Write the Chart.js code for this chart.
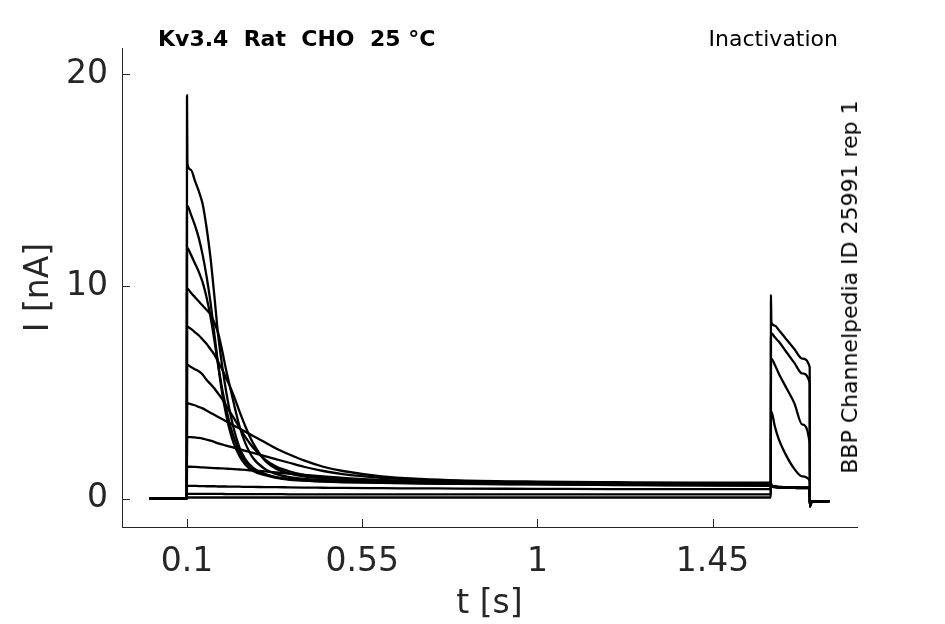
<!DOCTYPE html>
<html>
<head>
<meta charset="utf-8">
<script src="https://cdn.jsdelivr.net/npm/chart.js@4.4.1/dist/chart.umd.min.js"></script>
<style>
  html, body { margin: 0; padding: 0; background: #fff; }
  #wrap { position: relative; width: 945px; height: 624px; font-family: "DejaVu Sans", sans-serif; color: #000; }
  #c { position: absolute; left: 0; top: 0; }
  .note { position: absolute; white-space: pre; font-size: 22px; line-height: 1; }
  #title { left: 158px; top: 28px; font-weight: bold; }
  #protocol { right: 107px; top: 28px; }
  #source { left: 850px; top: 287px; transform: translate(-50%, -50%) rotate(-90deg); }
</style>
</head>
<body>
<div id="wrap">
  <canvas id="c" width="945" height="624"></canvas>
  <div class="note" id="title">Kv3.4  Rat  CHO  25 °C</div>
  <div class="note" id="protocol">Inactivation</div>
  <div class="note" id="source">BBP Channelpedia ID 25991 rep 1</div>
</div>
<script>
// sample times (s), shared by all sweeps
const timeS = [0.003, 0.0995, 0.1, 0.101, 0.11, 0.12, 0.13, 0.14, 0.15, 0.16, 0.17, 0.18, 0.19, 0.2, 0.21, 0.22,
  0.235, 0.25, 0.27, 0.3, 0.33, 0.36, 0.4, 0.45, 0.5, 0.6, 0.7, 0.8, 1.0, 1.2, 1.4, 1.5995,
  1.6, 1.601, 1.61, 1.62, 1.64, 1.66, 1.68, 1.6995, 1.7, 1.702, 1.705, 1.75];

// current (nA) for each sweep
const sweep01 = [0, 0, 19.0, 15.8, 15.5, 15.0, 14.5, 13.9, 12.8, 11.4, 9.6, 7.7, 6.3, 5.1, 4.1, 3.3,
  2.4, 1.85, 1.45, 1.15, 1.0, 0.92, 0.86, 0.82, 0.79, 0.76, 0.74, 0.72, 0.7, 0.68, 0.67, 0.67,
  0.75, 0.62, 0.57, 0.55, 0.54, 0.53, 0.52, 0.52, -0.35, -0.25, -0.15, -0.12];
const sweep02 = [0, 0, 13.8, 13.8, 13.4, 12.9, 12.3, 11.5, 10.5, 9.3, 7.8, 6.3, 5.0, 4.0, 3.2, 2.6,
  2.0, 1.6, 1.3, 1.1, 0.98, 0.9, 0.85, 0.8, 0.77, 0.74, 0.71, 0.69, 0.67, 0.65, 0.63, 0.63,
  0.72, 0.6, 0.55, 0.53, 0.52, 0.51, 0.5, 0.5, -0.35, -0.25, -0.15, -0.12];
const sweep03 = [0, 0, 11.8, 11.8, 11.5, 11.1, 10.7, 10.2, 9.5, 8.6, 7.5, 6.3, 5.2, 4.3, 3.5, 2.9,
  2.2, 1.75, 1.4, 1.15, 1.0, 0.93, 0.88, 0.83, 0.8, 0.76, 0.73, 0.7, 0.68, 0.66, 0.64, 0.64,
  0.7, 0.58, 0.54, 0.52, 0.51, 0.5, 0.49, 0.49, -0.35, -0.25, -0.15, -0.12];
const sweep04 = [0, 0, 9.9, 9.9, 9.7, 9.5, 9.3, 9.1, 8.9, 8.7, 8.3, 7.8, 7.0, 6.1, 5.3, 4.5,
  3.4, 2.6, 1.9, 1.4, 1.15, 1.02, 0.93, 0.87, 0.83, 0.78, 0.75, 0.72, 0.7, 0.68, 0.66, 0.66,
  0.7, 0.6, 0.56, 0.54, 0.53, 0.52, 0.51, 0.51, -0.35, -0.25, -0.15, -0.12];
const sweep05 = [0, 0, 8.1, 8.1, 8.0, 7.85, 7.7, 7.5, 7.3, 7.05, 6.8, 6.45, 6.1, 5.7, 5.3, 4.85,
  4.1, 3.4, 2.6, 1.8, 1.4, 1.2, 1.05, 0.95, 0.88, 0.8, 0.76, 0.73, 0.7, 0.68, 0.67, 0.67,
  0.68, 0.58, 0.54, 0.52, 0.51, 0.5, 0.49, 0.49, -0.35, -0.25, -0.15, -0.12];
const sweep06 = [0, 0, 6.3, 6.3, 6.2, 6.1, 6.0, 5.85, 5.6, 5.4, 5.2, 4.95, 4.7, 4.4, 4.1, 3.8,
  3.35, 2.9, 2.4, 1.85, 1.5, 1.3, 1.12, 1.0, 0.92, 0.83, 0.78, 0.75, 0.72, 0.7, 0.69, 0.69,
  0.7, 0.6, 0.56, 0.54, 0.52, 0.51, 0.5, 0.5, -0.35, -0.25, -0.15, -0.12];
const sweep07 = [0, 0, 4.5, 4.5, 4.45, 4.4, 4.32, 4.25, 4.15, 4.05, 3.95, 3.85, 3.75, 3.65, 3.55, 3.45,
  3.3, 3.15, 2.95, 2.65, 2.35, 2.1, 1.8, 1.5, 1.3, 1.05, 0.93, 0.86, 0.8, 0.77, 0.75, 0.75,
  0.72, 0.62, 0.57, 0.55, 0.54, 0.53, 0.52, 0.52, -0.35, -0.25, -0.15, -0.12];
const sweep08 = [0, 0, 2.9, 2.9, 2.9, 2.88, 2.86, 2.83, 2.78, 2.73, 2.67, 2.6, 2.55, 2.5, 2.45, 2.4,
  2.32, 2.25, 2.15, 2.0, 1.85, 1.7, 1.5, 1.3, 1.15, 0.98, 0.88, 0.82, 0.76, 0.73, 0.72, 0.72,
  0.7, 0.6, 0.55, 0.53, 0.52, 0.51, 0.5, 0.5, -0.35, -0.25, -0.15, -0.12];
const sweep09 = [0, 0, 1.5, 1.5, 1.5, 1.49, 1.48, 1.47, 1.46, 1.45, 1.44, 1.43, 1.42, 1.41, 1.4, 1.39,
  1.37, 1.35, 1.32, 1.28, 1.23, 1.18, 1.12, 1.05, 0.98, 0.88, 0.8, 0.75, 0.68, 0.64, 0.62, 0.6,
  4.1, 4.1, 3.4, 2.8, 2.0, 1.4, 1.05, 0.85, -0.35, -0.25, -0.15, -0.12];
const sweep10 = [0, 0, 0.62, 0.6, 0.6, 0.6, 0.59, 0.59, 0.58, 0.58, 0.58, 0.57, 0.57, 0.57, 0.56, 0.56,
  0.56, 0.55, 0.55, 0.54, 0.54, 0.53, 0.52, 0.51, 0.5, 0.49, 0.48, 0.47, 0.46, 0.45, 0.45, 0.45,
  6.6, 6.6, 6.3, 5.9, 5.2, 4.5, 3.5, 2.6, -0.35, -0.25, -0.15, -0.12];
const sweep11 = [0, 0, 0.24, 0.22, 0.22, 0.22, 0.22, 0.22, 0.22, 0.22, 0.22, 0.22, 0.22, 0.21, 0.21, 0.21,
  0.21, 0.21, 0.21, 0.21, 0.21, 0.2, 0.2, 0.2, 0.2, 0.2, 0.2, 0.2, 0.2, 0.2, 0.2, 0.2,
  7.8, 7.8, 7.6, 7.4, 6.9, 6.4, 5.9, 5.45, -0.35, -0.25, -0.15, -0.12];
const sweep12 = [0, 0, 0.08, 0.05, 0.05, 0.05, 0.05, 0.05, 0.05, 0.05, 0.05, 0.05, 0.05, 0.05, 0.05, 0.05,
  0.05, 0.05, 0.05, 0.05, 0.05, 0.05, 0.05, 0.05, 0.05, 0.05, 0.05, 0.05, 0.05, 0.05, 0.05, 0.05,
  9.6, 8.3, 8.15, 7.95, 7.5, 7.05, 6.6, 6.2, -0.4, -0.28, -0.15, -0.12];

const sweeps = [sweep01, sweep02, sweep03, sweep04, sweep05, sweep06,
  sweep07, sweep08, sweep09, sweep10, sweep11, sweep12];

const xTicks = [0.1, 0.55, 1, 1.45];
const yTicks = [0, 10, 20];

const axisColor = '#262626';
const tickFont = { family: 'DejaVu Sans', size: 33 };

// MATLAB-style tick marks pointing into the plot
const inwardTicks = {
  id: 'inwardTicks',
  afterDraw(chart) {
    const { ctx, chartArea, scales } = chart;
    ctx.save();
    ctx.strokeStyle = axisColor;
    ctx.lineWidth = 1;
    ctx.beginPath();
    scales.x.ticks.forEach(t => {
      const px = Math.round(scales.x.getPixelForValue(t.value)) + 0.5;
      ctx.moveTo(px, chartArea.bottom);
      ctx.lineTo(px, chartArea.bottom - 8);
    });
    scales.y.ticks.forEach(t => {
      const py = Math.round(scales.y.getPixelForValue(t.value)) + 0.5;
      ctx.moveTo(chartArea.left, py);
      ctx.lineTo(chartArea.left + 8, py);
    });
    ctx.stroke();
    ctx.restore();
  }
};

new Chart(document.getElementById('c'), {
  type: 'line',
  data: {
    datasets: sweeps.map(sweep => ({
      data: timeS.map((t, i) => ({ x: t, y: sweep[i] })),
      borderColor: '#000',
      borderWidth: 2.3,
      pointRadius: 0,
      cubicInterpolationMode: 'monotone',
      fill: false
    }))
  },
  options: {
    responsive: false,
    devicePixelRatio: 1,
    animation: false,
    layout: { padding: { left: 20, right: 88, top: 48, bottom: 0 } },
    plugins: { legend: { display: false }, tooltip: { enabled: false } },
    scales: {
      x: {
        type: 'linear',
        min: -0.067,
        max: 1.821,
        afterBuildTicks: s => { s.ticks = xTicks.map(v => ({ value: v })); },
        afterFit: s => { s.height = 97; },
        grid: { display: false, drawTicks: false },
        border: { display: true, color: axisColor, width: 1 },
        ticks: { font: tickFont, color: axisColor, padding: 16, maxRotation: 0, autoSkip: false,
          callback: v => String(v) },
        title: { display: true, text: 't [s]', font: tickFont, color: axisColor, padding: 0 }
      },
      y: {
        type: 'linear',
        min: -1.34,
        max: 21.24,
        afterBuildTicks: s => { s.ticks = yTicks.map(v => ({ value: v })); },
        afterFit: s => { s.width = 102; },
        grid: { display: false, drawTicks: false },
        border: { display: true, color: axisColor, width: 1 },
        ticks: { font: tickFont, color: axisColor, padding: 14, callback: v => String(v) },
        title: { display: true, text: 'I [nA]', font: tickFont, color: axisColor, padding: 0 }
      }
    }
  },
  plugins: [inwardTicks]
});
</script>
</body>
</html>
